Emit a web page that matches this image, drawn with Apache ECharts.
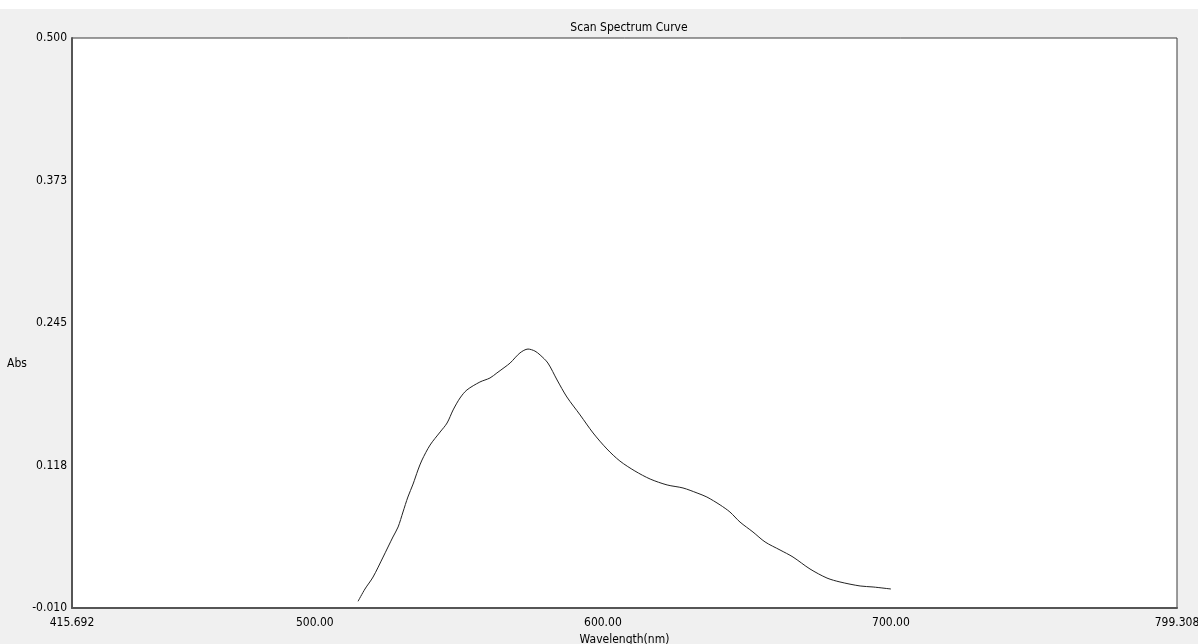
<!DOCTYPE html>
<html>
<head>
<meta charset="utf-8">
<title>Scan Spectrum Curve</title>
<script src="https://cdn.jsdelivr.net/npm/echarts@6/dist/echarts.min.js"></script>
<style>
    html, body { margin: 0; padding: 0; background: #f0f0f0; }
    #main { width: 1198px; height: 644px; }
</style>
</head>
<body>
<div id="main"></div>
<script>
// wavelength (nm)
var wavelength = [
    515.0, 517.4, 520.2, 523.7, 527.1, 528.9, 530.6, 532.3, 534.1, 535.8,
    537.2, 540.0, 543.5, 545.9, 548.0, 550.4, 552.8, 557.3, 560.8, 563.2,
    566.0, 567.8, 571.2, 574.0, 576.4, 578.2, 580.9, 584.1, 587.5, 592.1,
    596.6, 601.4, 605.9, 611.1, 616.4, 622.3, 627.8, 632.7, 636.1, 640.7,
    644.1, 647.6, 652.1, 656.3, 661.5, 666.0, 671.9, 677.8, 682.3, 689.3,
    693.8, 700.0
];
// absorbance
var absorbance = [
    -0.0040, 0.0070, 0.0177, 0.0356, 0.0535, 0.0625, 0.0759, 0.0893, 0.1009, 0.1135,
    0.1224, 0.1358, 0.1475, 0.1555, 0.1672, 0.1779, 0.1851, 0.1922, 0.1958, 0.2003,
    0.2056, 0.2092, 0.2182, 0.2217, 0.2199, 0.2164, 0.2092, 0.1940, 0.1788, 0.1627,
    0.1466, 0.1323, 0.1215, 0.1126, 0.1054, 0.1001, 0.0974, 0.0929, 0.0893, 0.0822,
    0.0759, 0.0669, 0.0580, 0.0491, 0.0419, 0.0356, 0.0249, 0.0168, 0.0133, 0.0097,
    0.0088, 0.0070
];

var xTickValues = [415.692, 500, 600, 700, 799.308];
var xTickLabels = ['415.692', '500.00', '600.00', '700.00', '799.308'];
var yTickValues = [-0.010, 0.1175, 0.245, 0.3725, 0.500];
var yTickLabels = ['-0.010', '0.118', '0.245', '0.373', '0.500'];

var FONT = '"Liberation Sans Narrow", "DejaVu Sans Condensed", "Liberation Sans", sans-serif';

// pick the label whose tick value is closest
function tickLabel(values, labels) {
    return function (v) {
        var best = 0;
        for (var i = 1; i < values.length; i++) {
            if (Math.abs(values[i] - v) < Math.abs(values[best] - v)) {
                best = i;
            }
        }
        return labels[best];
    };
}

var points = [];
for (var i = 0; i < wavelength.length; i++) {
    points.push([wavelength[i], absorbance[i]]);
}

var chart = echarts.init(document.getElementById('main'), null, {renderer: 'canvas'});
chart.setOption({
    backgroundColor: '#f0f0f0',
    animation: false,
    title: {
        text: 'Scan Spectrum Curve',
        left: 624,
        textAlign: 'center',
        top: 17,
        textStyle: {fontFamily: FONT, fontSize: 12, fontWeight: 'normal', color: '#000'}
    },
    graphic: [
        {type: 'rect', left: 0, top: 0, shape: {width: 1198, height: 9}, style: {fill: '#ffffff'}, silent: true},
        {type: 'text', left: 7, top: 358, style: {text: 'Abs', font: '12px ' + FONT, fill: '#000'}}
    ],
    grid: {
        left: 72,
        right: 21,
        top: 38,
        bottom: 36,
        outerBoundsMode: 'none',
        containLabel: false,
        show: true,
        backgroundColor: '#ffffff',
        borderColor: '#3a3a3a',
        borderWidth: 1
    },
    xAxis: {
        type: 'value',
        min: 415.692,
        max: 799.308,
        name: 'Wavelength(nm)',
        nameLocation: 'middle',
        nameGap: 24,
        nameTextStyle: {fontFamily: FONT, fontSize: 12, color: '#000'},
        axisLine: {show: true, onZero: false, lineStyle: {color: '#555', width: 2}},
        axisTick: {show: false},
        splitLine: {show: false},
        axisLabel: {
            customValues: xTickValues,
            formatter: tickLabel(xTickValues, xTickLabels),
            margin: 9,
            fontFamily: FONT,
            fontSize: 12,
            color: '#000'
        }
    },
    yAxis: {
        type: 'value',
        min: -0.01,
        max: 0.5,
        axisLine: {show: true, onZero: false, lineStyle: {color: '#555', width: 2}},
        axisTick: {show: false},
        splitLine: {show: false},
        axisLabel: {
            customValues: yTickValues,
            formatter: tickLabel(yTickValues, yTickLabels),
            margin: 5,
            fontFamily: FONT,
            fontSize: 12,
            color: '#000'
        }
    },
    series: [
        {
            type: 'line',
            data: points,
            showSymbol: false,
            smooth: 0.3,
            lineStyle: {color: '#222', width: 1}
        }
    ]
});
</script>
</body>
</html>
